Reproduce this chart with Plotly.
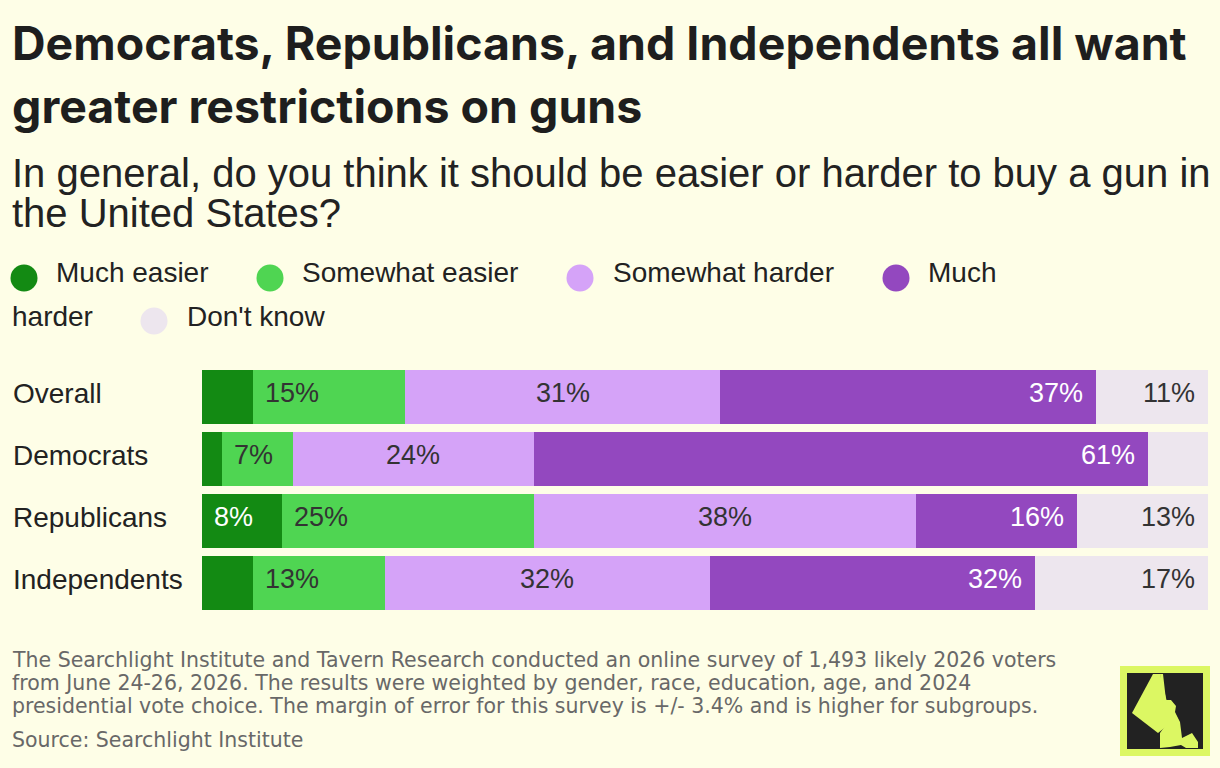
import plotly.graph_objects as go

# Survey data (percent of respondents)
groups = ["Overall", "Democrats", "Republicans", "Independents"]
answers = ["Much easier", "Somewhat easier", "Somewhat harder", "Much harder", "Don't know"]

much_easier = [5, 2, 8, 5]
somewhat_easier = [15, 7, 25, 13]
somewhat_harder = [31, 24, 38, 32]
much_harder = [37, 61, 16, 32]
dont_know = [11, 6, 13, 17]

colors = ["#138a13", "#4fd552", "#d5a3f8", "#9348bf", "#ede6ee"]
label_colors = ["#ffffff", "#333333", "#333333", "#ffffff", "#333333"]
label_anchor = ["start", "start", "middle", "end", "end"]
MIN_LABEL = 7

title_lines = ["Democrats, Republicans, and Independents all want",
               "greater restrictions on guns"]
subtitle_lines = ["In general, do you think it should be easier or harder to buy a gun in",
                  "the United States?"]
note_lines = ["The Searchlight Institute and Tavern Research conducted an online survey of 1,493 likely 2026 voters",
              "from June 24-26, 2026. The results were weighted by gender, race, education, age, and 2024",
              "presidential vote choice. The margin of error for this survey is +/- 3.4% and is higher for subgroups."]
source = "Source: Searchlight Institute"

BG = "#fefee7"
SANS = "Liberation Sans, Arial, sans-serif"
NOTE_FONT = "DejaVu Sans, Liberation Sans, sans-serif"

# the page body keeps an 8px margin, so the figure is 8px smaller than the window
PAGE = 8
W, H = 1220 - PAGE, 768 - PAGE
# plot area in page pixels
X0, X1, Y0, Y1 = 202, 1208, 366, 614


def px(x):
    return (x - X0) / (X1 - X0)


def py(y):
    return (Y1 - y) / (Y1 - Y0)


series = [much_easier, somewhat_easier, somewhat_harder, much_harder, dont_know]
totals = [sum(s[j] for s in series) for j in range(len(groups))]
shares = [[s[j] / totals[j] * 100 for j in range(len(groups))] for s in series]

fig = go.Figure()
for name, vals, col in zip(answers, shares, colors):
    fig.add_trace(go.Bar(
        y=groups, x=vals, name=name, orientation="h",
        marker=dict(color=col, line=dict(width=0)),
        hoverinfo="skip"
    ))

annotations = []

# value labels inside the segments
for j, g in enumerate(groups):
    start = 0
    for i, s in enumerate(series):
        w = shares[i][j]
        if s[j] >= MIN_LABEL:
            if label_anchor[i] == "start":
                x, xa, xs = start, "left", 10
            elif label_anchor[i] == "middle":
                x, xa, xs = start + w / 2, "center", 0
            else:
                x, xa, xs = start + w, "right", -11
            annotations.append(dict(
                x=x, y=g, xref="x", yref="y", text=f"{s[j]}%", showarrow=False,
                xanchor=xa, xshift=xs, yshift=4,
                font=dict(family=SANS, size=27, color=label_colors[i])
            ))
        start += w

# category labels
for g in groups:
    annotations.append(dict(
        x=px(11), y=g, xref="paper", yref="y", text=g, showarrow=False,
        xanchor="left", yshift=4, font=dict(family=SANS, size=28, color="#222222")
    ))


def text_at(x, baseline, txt, size, color, family=SANS, k=0.35):
    annotations.append(dict(
        x=px(x), y=py(baseline - k * size), xref="paper", yref="paper",
        text=txt, showarrow=False, xanchor="left", yanchor="middle",
        font=dict(family=family, size=size, color=color)
    ))


for line, base in zip(title_lines, [60, 123]):
    text_at(10, base, f"<b>{line}</b>", 46.5, "#1e1e1e", family="Inter, sans-serif", k=0.36)
for line, base in zip(subtitle_lines, [187, 227]):
    text_at(10, base, line, 40, "#222222")
for line, base in zip(note_lines, [667, 690, 713]):
    text_at(10, base, line, 20.5, "#686868", family=NOTE_FONT, k=0.36)
text_at(10, 747, source, 20.5, "#686868", family=NOTE_FONT, k=0.36)

# legend, wrapped like flowing text
legend_items = [
    (24, 278, 54, 282, answers[0], colors[0]),
    (270, 278, 300, 282, answers[1], colors[1]),
    (580, 278, 611, 282, answers[2], colors[2]),
    (896, 278, 926, 282, "Much", colors[3]),
    (154, 321, 185, 326, answers[4], colors[4]),
]
shapes = []
for cx, cy, tx, tb, txt, col in legend_items:
    shapes.append(dict(
        type="circle", xref="paper", yref="paper",
        x0=px(cx - 13.5), x1=px(cx + 13.5), y0=py(cy + 13.5), y1=py(cy - 13.5),
        fillcolor=col, line=dict(width=0)
    ))
    text_at(tx, tb, txt, 28, "#222222")
text_at(10, 326, "harder", 28, "#222222")

# logo in the bottom right corner
shapes.append(dict(type="rect", xref="paper", yref="paper",
                   x0=px(1120), x1=px(1210), y0=py(756), y1=py(666),
                   fillcolor="#dcf763", line=dict(width=0)))
shapes.append(dict(type="rect", xref="paper", yref="paper",
                   x0=px(1127), x1=px(1203), y0=py(749), y1=py(673),
                   fillcolor="#222222", line=dict(width=0)))


def path(points):
    return "M " + " L ".join(f"{px(x):.5f},{py(y):.5f}" for x, y in points) + " Z"


beam = [(1153, 674), (1160, 674), (1172, 722), (1158, 733), (1132, 713)]
figure = [(1160, 674), (1163, 674), (1166, 700), (1171, 700), (1176, 706), (1175, 712),
          (1180, 722), (1182, 738), (1192, 733), (1198, 742), (1198, 748), (1186, 748),
          (1181, 745), (1170, 747), (1160, 748), (1160, 733), (1168, 722), (1163, 705)]
shapes.append(dict(type="path", xref="paper", yref="paper", path=path(beam),
                   fillcolor="#dcf763", line=dict(width=0)))
shapes.append(dict(type="path", xref="paper", yref="paper", path=path(figure),
                   fillcolor="#dcf763", line=dict(width=0)))

fig.update_layout(
    width=W, height=H,
    margin=dict(l=X0 - PAGE, r=W + PAGE - X1, t=Y0 - PAGE, b=H + PAGE - Y1),
    paper_bgcolor=BG, plot_bgcolor=BG,
    barmode="stack", bargap=0.129,
    showlegend=False,
    xaxis=dict(range=[0, 100], visible=False, fixedrange=True),
    yaxis=dict(autorange="reversed", showticklabels=False, showgrid=False,
               zeroline=False, fixedrange=True),
    annotations=annotations,
    shapes=shapes,
)

fig.write_html("out.html", config={"displayModeBar": False},
               post_script=f"document.body.style.backgroundColor = '{BG}';")
